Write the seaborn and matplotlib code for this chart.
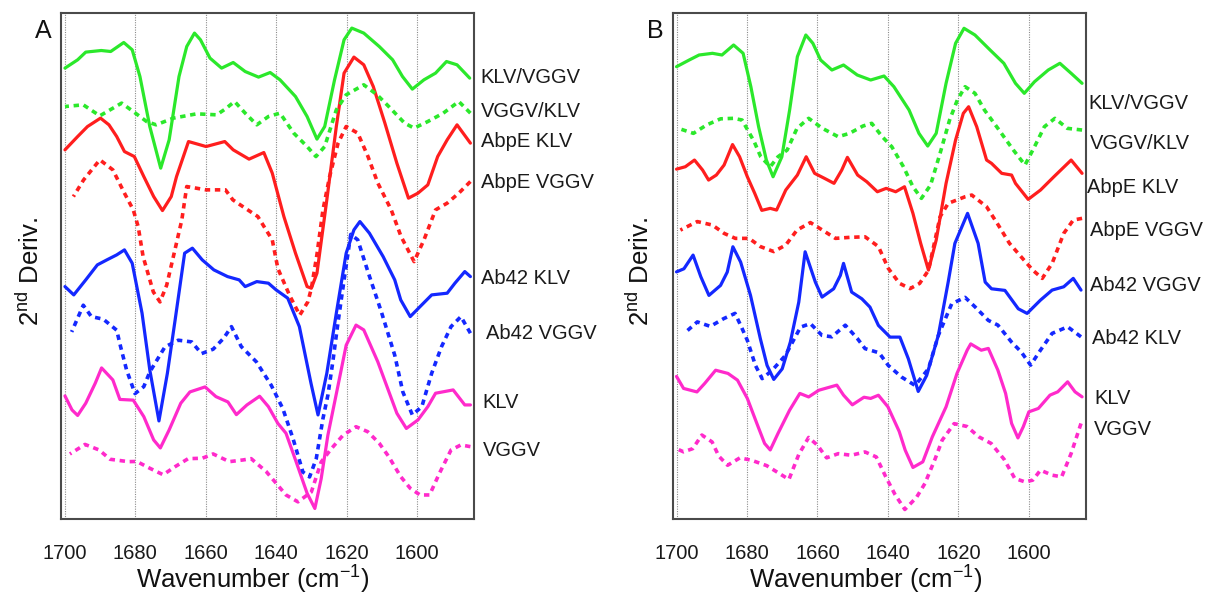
import matplotlib
matplotlib.use("Agg")
import matplotlib.pyplot as plt
import matplotlib.transforms as mtransforms
import seaborn as sns

# ---------------- Panel A: second-derivative FTIR spectra (stacked, a.u.) ----------------
A_klv_vggv_wn = [1700.0, 1696.4, 1694.1, 1689.7, 1687.0, 1683.3, 1680.9, 1678.7, 1675.9, 1672.8, 1670.4,
                 1667.6, 1665.4, 1663.2, 1661.5, 1658.8, 1655.5, 1652.2, 1648.8, 1645.0, 1641.7, 1638.9,
                 1634.5, 1631.2, 1628.4, 1626.2, 1623.4, 1620.7, 1618.5, 1615.1, 1610.7, 1606.9, 1604.1,
                 1601.3, 1598.0, 1594.7, 1591.6, 1588.6, 1585.0]
A_klv_vggv = [451.2, 459.5, 467.2, 468.8, 467.8, 476.8, 469.5, 442.8, 392.8, 351.2, 379.5, 442.8, 472.8,
              486.2, 479.5, 461.2, 451.2, 456.8, 447.8, 442.2, 446.8, 439.5, 422.8, 402.8, 380.2, 392.8,
              439.5, 479.5, 491.2, 486.2, 472.8, 459.5, 442.8, 430.2, 439.5, 446.2, 457.8, 454.5, 441.2]

A_vggv_klv_wn = [1700.0, 1694.8, 1690.1, 1683.9, 1680.6, 1676.8, 1674.1, 1669.2, 1662.6, 1656.9, 1654.5,
                 1651.8, 1648.8, 1645.5, 1642.2, 1638.9, 1635.0, 1631.2, 1628.7, 1626.2, 1622.9, 1620.1,
                 1615.1, 1611.3, 1608.0, 1603.5, 1600.8, 1596.9, 1592.5, 1588.1, 1584.8]
A_vggv_klv = [412.8, 414.5, 403.5, 416.2, 407.8, 397.8, 394.5, 401.2, 405.5, 404.5, 410.2, 417.8, 406.2,
              394.5, 402.8, 406.2, 386.2, 372.8, 362.8, 372.8, 409.5, 424.5, 434.5, 424.5, 412.8, 396.2,
              391.2, 397.8, 406.2, 417.8, 406.2]

A_abpe_klv_wn = [1700.0, 1696.4, 1693.6, 1689.9, 1687.5, 1685.3, 1683.1, 1680.3, 1677.6, 1674.8, 1672.3,
                 1669.8, 1668.3, 1664.9, 1659.9, 1654.6, 1652.2, 1647.7, 1643.5, 1641.1, 1637.8, 1634.5,
                 1631.2, 1630.0, 1628.4, 1625.6, 1622.9, 1620.7, 1617.9, 1615.1, 1612.4, 1609.1, 1605.7,
                 1602.4, 1599.7, 1596.9, 1594.1, 1591.4, 1588.6, 1584.8]
A_abpe_klv = [369.5, 382.8, 392.8, 401.2, 394.5, 382.8, 367.8, 362.8, 342.8, 322.8, 308.8, 322.8, 342.8,
              377.8, 372.8, 377.8, 369.5, 360.2, 366.8, 346.2, 302.8, 266.2, 232.8, 231.2, 246.2, 319.5,
              392.8, 446.2, 462.2, 454.5, 432.8, 396.2, 356.2, 321.2, 326.2, 334.5, 362.8, 379.5, 394.5,
              376.2]

A_abpe_vggv_wn = [1697.6, 1694.7, 1690.1, 1686.4, 1683.1, 1680.6, 1679.2, 1677.8, 1674.9, 1673.0, 1671.1,
                  1669.2, 1666.8, 1665.4, 1659.9, 1654.4, 1652.3, 1648.8, 1645.2, 1641.1, 1639.5, 1636.2,
                  1633.3, 1631.0, 1630.0, 1628.4, 1626.7, 1624.8, 1622.4, 1620.1, 1616.8, 1613.9, 1611.1,
                  1607.3, 1604.5, 1600.8, 1598.0, 1594.7, 1591.4, 1588.1, 1584.8]
A_abpe_vggv = [322.8, 339.5, 359.5, 349.5, 326.2, 309.5, 292.8, 262.8, 227.5, 217.5, 234.2, 262.8, 299.5,
               332.8, 329.5, 329.5, 319.5, 311.2, 302.8, 279.5, 250.8, 224.2, 204.2, 217.5, 230.8, 265.0,
               309.5, 342.8, 376.2, 392.8, 386.2, 362.8, 336.2, 309.5, 282.8, 257.8, 279.5, 309.5, 316.2,
               326.2, 337.8]

A_ab42_klv_wn = [1700.0, 1697.5, 1694.1, 1690.8, 1688.1, 1685.3, 1683.1, 1680.9, 1678.1, 1675.9, 1673.3,
                 1670.9, 1668.7, 1666.0, 1663.8, 1661.0, 1657.7, 1653.8, 1650.5, 1648.8, 1645.5, 1642.2,
                 1640.0, 1636.7, 1633.4, 1630.1, 1628.1, 1625.6, 1622.9, 1620.1, 1617.9, 1616.2, 1613.5,
                 1609.6, 1606.3, 1604.6, 1601.9, 1599.1, 1595.8, 1591.4, 1589.2, 1586.4, 1584.8]
A_ab42_klv = [232.8, 224.5, 239.5, 254.5, 259.5, 264.5, 269.5, 256.2, 206.2, 149.5, 98.5, 146.2, 199.5,
              266.2, 271.2, 259.5, 249.5, 242.8, 239.5, 232.8, 237.8, 236.2, 229.5, 221.2, 192.8, 136.2,
              104.5, 146.2, 206.2, 266.2, 289.5, 297.8, 286.2, 262.8, 239.5, 219.5, 202.8, 212.8, 224.5,
              226.2, 236.2, 247.8, 242.8]

A_ab42_vggv_wn = [1698.1, 1694.8, 1692.5, 1689.1, 1685.3, 1684.2, 1682.5, 1680.1, 1677.6, 1675.9, 1671.6,
                  1667.8, 1664.0, 1661.2, 1657.9, 1654.9, 1652.7, 1649.9, 1645.6, 1641.4, 1638.1, 1635.2,
                  1632.4, 1630.5, 1628.6, 1626.7, 1625.3, 1623.9, 1622.4, 1620.5, 1618.8, 1616.8, 1613.9,
                  1610.1, 1606.3, 1604.0, 1601.3, 1598.6, 1595.8, 1593.0, 1590.3, 1587.5, 1584.8]
A_ab42_vggv = [187.5, 214.2, 202.8, 200.2, 189.2, 172.8, 149.5, 125.8, 132.8, 147.5, 172.5, 179.2, 177.5,
               165.8, 170.2, 181.2, 192.8, 172.8, 157.5, 134.2, 110.8, 80.8, 47.5, 42.5, 60.8, 100.8,
               124.2, 157.5, 197.5, 244.2, 285.0, 279.5, 247.5, 207.5, 164.2, 127.5, 104.5, 112.8, 146.2,
               172.8, 192.8, 202.8, 186.2]

A_klv_wn = [1700.0, 1698.0, 1696.4, 1694.1, 1691.4, 1689.6, 1686.4, 1684.4, 1680.6, 1677.6, 1674.8,
            1672.9, 1670.4, 1667.1, 1664.5, 1660.2, 1657.1, 1653.7, 1651.3, 1648.3, 1644.7, 1642.2,
            1639.5, 1637.2, 1634.5, 1631.2, 1629.0, 1627.2, 1625.3, 1622.4, 1620.1, 1617.3, 1615.1,
            1611.1, 1608.5, 1605.7, 1603.0, 1599.7, 1596.9, 1594.7, 1589.7, 1586.4, 1584.8]
A_klv = [123.5, 109.5, 104.0, 116.2, 136.2, 151.5, 139.5, 120.0, 119.3, 102.8, 79.5, 71.5, 89.5, 116.2,
         127.5, 132.5, 122.8, 117.5, 104.8, 114.5, 123.2, 112.8, 96.0, 86.2, 59.5, 26.2, 11.0, 40.8, 84.2,
         134.2, 174.2, 194.3, 189.5, 157.5, 132.8, 106.2, 91.0, 99.5, 112.8, 126.2, 129.5, 114.5, 114.5]

A_vggv_wn = [1698.6, 1694.3, 1690.3, 1687.2, 1682.0, 1679.6, 1675.9, 1672.1, 1668.7, 1665.0, 1661.0,
             1657.9, 1653.3, 1649.4, 1647.1, 1642.8, 1640.0, 1637.2, 1633.8, 1630.0, 1627.2, 1624.3,
             1621.0, 1617.3, 1614.0, 1610.7, 1608.0, 1604.6, 1601.9, 1599.1, 1596.4, 1593.6, 1590.3,
             1587.5, 1584.8]
A_vggv = [65.5, 75.0, 69.5, 60.2, 57.8, 58.0, 51.2, 44.7, 52.8, 60.8, 61.2, 65.5, 57.8, 59.5, 60.8, 47.8,
          36.2, 24.5, 17.6, 27.5, 57.5, 70.8, 84.2, 92.7, 87.8, 76.2, 62.8, 42.8, 31.2, 24.5, 24.5, 46.2,
          69.5, 74.5, 72.8]

# ---------------- Panel B ----------------
B_klv_vggv_wn = [1700.0, 1696.4, 1693.6, 1689.8, 1687.1, 1683.8, 1681.1, 1678.9, 1676.7, 1674.5, 1672.6,
                 1670.1, 1667.9, 1665.7, 1663.3, 1661.3, 1659.1, 1655.9, 1652.6, 1648.7, 1644.9, 1641.1,
                 1638.3, 1634.0, 1631.2, 1628.7, 1626.3, 1623.5, 1620.8, 1618.4, 1615.3, 1611.0, 1607.1,
                 1603.8, 1601.3, 1598.4, 1594.5, 1591.2, 1588.0, 1584.9]
B_klv_vggv = [452.6, 459.3, 464.3, 466.0, 464.3, 474.3, 466.0, 432.6, 392.6, 359.3, 342.6, 362.6, 409.3,
              462.6, 484.3, 476.0, 459.3, 449.3, 454.3, 444.3, 439.3, 443.3, 432.6, 409.3, 386.0, 373.3,
              386.0, 436.0, 476.0, 491.0, 484.3, 469.3, 456.0, 436.0, 426.0, 437.6, 449.3, 456.0, 446.0,
              436.0]

B_vggv_klv_wn = [1699.5, 1695.2, 1691.5, 1687.5, 1683.8, 1681.4, 1678.0, 1676.1, 1673.4, 1671.2, 1668.6,
                 1665.8, 1662.5, 1658.6, 1654.1, 1650.9, 1647.1, 1644.6, 1641.6, 1638.9, 1635.6, 1632.9,
                 1630.5, 1627.9, 1625.2, 1622.5, 1620.3, 1618.1, 1615.3, 1612.6, 1608.7, 1604.4, 1601.1,
                 1598.4, 1595.6, 1592.6, 1589.1, 1584.9]
B_vggv_klv = [391.0, 386.0, 394.3, 400.5, 401.0, 399.3, 378.0, 362.6, 352.6, 362.6, 369.3, 391.0, 401.0,
              391.0, 382.6, 386.0, 393.3, 396.0, 382.6, 372.6, 352.6, 332.6, 321.0, 334.3, 366.0, 399.3,
              419.3, 432.6, 426.0, 409.3, 390.5, 369.3, 354.3, 372.6, 392.6, 401.0, 391.0, 389.3]

B_abpe_klv_wn = [1700.0, 1697.5, 1694.9, 1692.6, 1690.9, 1688.7, 1686.5, 1684.1, 1682.1, 1679.9, 1677.8,
                 1675.8, 1673.4, 1671.6, 1669.0, 1665.7, 1663.2, 1660.8, 1658.0, 1655.3, 1653.1, 1651.5,
                 1648.6, 1646.0, 1643.0, 1640.5, 1637.8, 1635.3, 1632.9, 1630.7, 1628.5, 1626.3, 1623.5,
                 1620.8, 1618.6, 1617.1, 1614.8, 1612.0, 1610.6, 1607.7, 1604.9, 1603.8, 1600.2, 1596.7,
                 1592.9, 1588.0, 1584.9]
B_abpe_klv = [350.2, 352.6, 359.3, 349.3, 339.3, 344.3, 354.3, 374.8, 362.6, 342.6, 326.0, 309.0, 311.0,
              309.3, 329.3, 344.3, 362.6, 346.0, 341.0, 336.0, 349.3, 362.0, 344.3, 337.6, 327.6, 331.0,
              327.6, 332.6, 306.0, 276.0, 249.3, 279.3, 336.0, 379.3, 406.0, 412.6, 392.6, 359.3, 356.0,
              346.0, 344.3, 336.0, 320.0, 329.3, 342.6, 359.3, 346.0]

B_abpe_vggv_wn = [1698.9, 1694.1, 1689.8, 1686.5, 1683.3, 1679.4, 1676.2, 1672.4, 1669.0, 1665.8, 1662.0,
                  1658.6, 1654.9, 1650.9, 1646.5, 1642.7, 1639.9, 1636.7, 1633.7, 1631.0, 1628.5, 1625.2,
                  1622.9, 1618.1, 1616.2, 1612.0, 1608.8, 1605.5, 1602.2, 1598.9, 1596.2, 1593.4, 1590.1,
                  1587.4, 1584.9]
B_abpe_vggv = [289.3, 297.8, 294.3, 286.0, 281.0, 281.0, 272.8, 267.8, 274.3, 289.3, 296.8, 289.3, 281.0,
               282.0, 282.6, 272.8, 251.0, 236.0, 230.8, 236.0, 249.0, 302.6, 316.0, 322.6, 324.3, 312.6,
               295.0, 276.0, 262.6, 249.3, 241.0, 256.0, 286.0, 299.3, 301.0]

B_ab42_vggv_wn = [1700.0, 1697.9, 1695.3, 1693.1, 1690.8, 1687.5, 1685.6, 1684.0, 1681.8, 1679.0, 1676.2,
                  1674.3, 1672.4, 1670.0, 1667.7, 1665.3, 1663.5, 1660.6, 1658.7, 1655.4, 1653.5, 1652.6,
                  1650.3, 1647.4, 1645.1, 1642.7, 1639.4, 1636.6, 1634.2, 1631.4, 1629.0, 1625.7, 1622.9,
                  1621.0, 1617.4, 1614.4, 1612.4, 1610.6, 1606.8, 1603.0, 1600.5, 1596.7, 1593.4, 1590.1,
                  1587.4, 1585.2]
B_ab42_vggv = [247.5, 250.6, 264.3, 242.6, 224.0, 234.0, 247.3, 272.6, 257.3, 224.0, 180.6, 154.0, 140.0,
               150.6, 177.3, 217.3, 267.6, 237.3, 222.3, 230.6, 244.0, 256.0, 227.3, 220.6, 212.3, 194.0,
               182.3, 182.3, 160.6, 128.0, 144.0, 184.0, 237.3, 276.0, 306.0, 276.0, 237.3, 230.6, 229.0,
               210.6, 206.0, 219.3, 229.3, 232.6, 241.0, 229.3]

B_ab42_klv_wn = [1697.4, 1694.1, 1690.4, 1686.6, 1683.4, 1681.6, 1679.9, 1677.6, 1675.7, 1672.8, 1669.1,
                 1664.8, 1662.0, 1658.7, 1655.9, 1652.1, 1648.7, 1646.5, 1642.5, 1639.9, 1636.1, 1632.3,
                 1628.5, 1625.7, 1621.9, 1618.1, 1615.3, 1611.5, 1608.8, 1604.9, 1602.2, 1599.5, 1596.7,
                 1593.4, 1589.0, 1585.2]
B_ab42_klv = [187.3, 197.5, 193.0, 200.8, 206.0, 192.6, 179.0, 154.0, 140.8, 149.3, 164.0, 192.3, 195.8,
              184.0, 182.6, 194.2, 181.0, 170.8, 166.6, 154.0, 142.3, 134.0, 150.6, 184.0, 215.6, 222.0,
              212.6, 199.0, 194.3, 177.3, 167.6, 154.3, 169.3, 186.0, 192.6, 182.6]

B_klv_wn = [1700.0, 1698.0, 1694.2, 1692.0, 1688.9, 1685.4, 1682.7, 1679.9, 1677.2, 1675.0, 1673.4,
            1671.2, 1667.9, 1665.0, 1662.5, 1659.6, 1654.5, 1652.6, 1650.1, 1646.8, 1644.9, 1642.7,
            1640.0, 1636.8, 1635.1, 1632.9, 1630.1, 1627.4, 1623.5, 1620.4, 1617.5, 1616.5, 1613.5,
            1611.5, 1608.8, 1606.6, 1604.9, 1603.1, 1601.6, 1600.0, 1597.3, 1594.0, 1591.8, 1589.0,
            1586.9, 1584.9]
B_klv = [143.0, 131.0, 127.5, 136.0, 149.2, 146.0, 139.3, 121.0, 96.0, 76.0, 69.5, 86.0, 109.3, 126.0,
         122.5, 129.2, 134.3, 124.3, 114.6, 122.2, 121.0, 124.2, 112.6, 88.0, 69.3, 52.0, 57.6, 82.6, 112.6,
         146.0, 169.3, 175.5, 169.2, 171.0, 149.3, 126.0, 96.0, 81.5, 92.6, 107.6, 111.0, 124.3, 127.6,
         137.6, 127.6, 122.6]

B_vggv_wn = [1699.5, 1698.0, 1695.4, 1692.8, 1689.9, 1688.0, 1685.5, 1682.0, 1678.7, 1674.4, 1671.1,
             1668.1, 1665.3, 1662.5, 1660.0, 1657.4, 1654.1, 1650.4, 1646.5, 1643.3, 1640.7, 1638.0,
             1635.2, 1631.9, 1629.5, 1626.6, 1624.6, 1621.2, 1617.6, 1614.2, 1610.7, 1607.0, 1604.0,
             1601.1, 1598.9, 1596.7, 1593.4, 1590.7, 1588.0, 1585.2]
B_vggv = [70.0, 67.6, 70.8, 84.4, 77.5, 63.3, 54.2, 61.6, 59.2, 53.8, 46.6, 40.0, 65.0, 82.0, 74.2, 61.6,
          65.8, 64.2, 67.5, 62.5, 43.3, 25.0, 10.0, 22.0, 36.0, 60.6, 79.3, 95.8, 93.0, 82.6, 76.0, 60.0,
          41.0, 37.6, 39.3, 49.3, 44.3, 42.6, 66.0, 96.0]

# Curve labels and their vertical positions (same units as the traces)
A_labels = ["KLV/VGGV", "VGGV/KLV", "AbpE KLV", "AbpE VGGV", "Ab42 KLV", "Ab42 VGGV", "KLV", "VGGV"]
A_label_pos = [442.2, 407.8, 377.8, 336.8, 241.2, 186.2, 116.8, 68.8]
B_labels = ["KLV/VGGV", "VGGV/KLV", "AbpE KLV", "AbpE VGGV", "Ab42 VGGV", "Ab42 KLV", "KLV", "VGGV"]
B_label_pos = [416.0, 376.0, 332.0, 289.3, 234.3, 181.0, 121.0, 90.0]

wn_ticks = [1700, 1680, 1660, 1640, 1620, 1600]

GREEN, RED, BLUE, MAGENTA = "#2BE82B", "#FF1E1E", "#1428FF", "#FF2ACB"
DASHED = (0, (1.5, 1.3))

sns.set_style("white")
plt.rcParams["font.family"] = ["Liberation Sans", "DejaVu Sans"]
plt.rcParams["mathtext.default"] = "regular"

fig = plt.figure(figsize=(12.05, 5.96), dpi=100)
axA = fig.add_axes([0.0510, 0.1284, 0.3423, 0.8493])
axB = fig.add_axes([0.5585, 0.1284, 0.3427, 0.8493])

panels = [
    (axA, "A",
     [(A_klv_vggv_wn, A_klv_vggv, GREEN, "-"), (A_vggv_klv_wn, A_vggv_klv, GREEN, DASHED),
      (A_abpe_klv_wn, A_abpe_klv, RED, "-"), (A_abpe_vggv_wn, A_abpe_vggv, RED, DASHED),
      (A_ab42_klv_wn, A_ab42_klv, BLUE, "-"), (A_ab42_vggv_wn, A_ab42_vggv, BLUE, DASHED),
      (A_klv_wn, A_klv, MAGENTA, "-"), (A_vggv_wn, A_vggv, MAGENTA, DASHED)],
     A_labels, A_label_pos, [1.016, 1.016, 1.016, 1.016, 1.016, 1.030, 1.021, 1.021],
     0.464, -0.076),
    (axB, "B",
     [(B_klv_vggv_wn, B_klv_vggv, GREEN, "-"), (B_vggv_klv_wn, B_vggv_klv, GREEN, DASHED),
      (B_abpe_klv_wn, B_abpe_klv, RED, "-"), (B_abpe_vggv_wn, B_abpe_vggv, RED, DASHED),
      (B_ab42_vggv_wn, B_ab42_vggv, BLUE, "-"), (B_ab42_klv_wn, B_ab42_klv, BLUE, DASHED),
      (B_klv_wn, B_klv, MAGENTA, "-"), (B_vggv_wn, B_vggv, MAGENTA, DASHED)],
     B_labels, B_label_pos, [1.006, 1.009, 1.003, 1.010, 1.010, 1.015, 1.020, 1.020],
     0.466, -0.080),
]

for ax, letter, traces, labels, label_pos, label_x, xlab_x, ylab_x in panels:
    for wn, val, color, ls in reversed(traces):
        lw = 2.3 if ls == "-" else 2.6
        sns.lineplot(x=wn, y=val, ax=ax, color=color, linewidth=lw, linestyle=ls,
                     estimator=None, errorbar=None, sort=True, solid_joinstyle="round")

    ax.set_xlim(1701.0, 1583.8)
    ax.set_ylim(0, 506)
    ax.set_xticks(wn_ticks)
    ax.set_xticklabels([str(t) for t in wn_ticks])
    ax.set_yticks([])
    ax.set_xlabel("")
    ax.set_ylabel("")
    for t in wn_ticks:
        ax.axvline(t, color="#8c8c8c", linewidth=0.8, linestyle=(0, (1, 1.2)), zorder=0)
    for sp in ax.spines.values():
        sp.set_visible(True)
        sp.set_color("#4a4a4a")
        sp.set_linewidth(1.5)
    ax.tick_params(axis="x", direction="out", length=4, width=1, color="#4a4a4a",
                   labelsize=14.5, pad=14, labelcolor="#1a1a1a")

    trans = mtransforms.blended_transform_factory(ax.transAxes, ax.transData)
    for txt, yv, xf in zip(labels, label_pos, label_x):
        ax.text(xf, yv, txt, transform=trans, ha="left", va="center", fontsize=14.5,
                color="#1a1a1a", clip_on=False)

    ax.text(-0.044, 0.966, letter, transform=ax.transAxes, ha="center", va="center",
            fontsize=18, color="#111111")
    ax.text(xlab_x, -0.1365, "Wavenumber (cm$^{-1}$)", transform=ax.transAxes,
            ha="center", va="baseline", fontsize=18.5, color="#111111")
    ax.text(ylab_x, 0.49, "2$^{nd}$ Deriv.", transform=ax.transAxes, rotation=90,
            ha="center", va="center", fontsize=18.5, color="#111111")

fig.savefig("out.png", dpi=100, facecolor="white")
